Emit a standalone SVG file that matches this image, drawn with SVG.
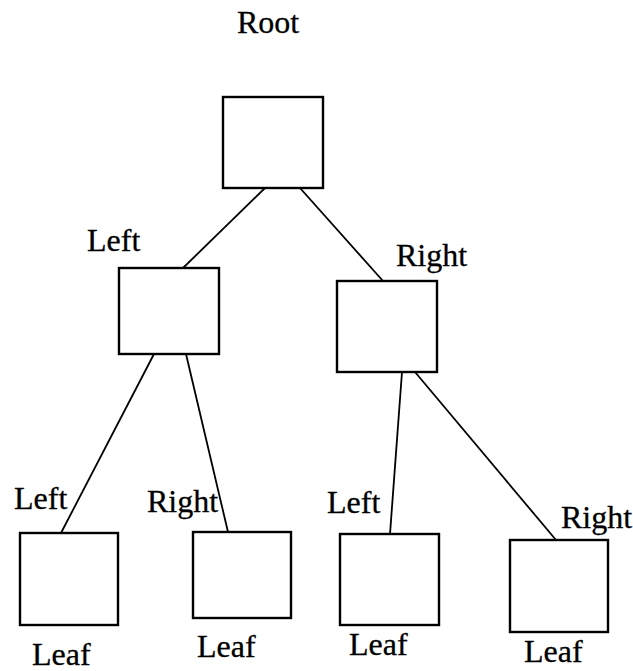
<svg xmlns="http://www.w3.org/2000/svg" width="633" height="671" viewBox="0 0 633 671">
<style>
.box{fill:#fff;stroke:#000;stroke-width:2.4}
.ln{stroke:#000;stroke-width:1.8;fill:none}
text{font-family:"Liberation Serif","Times New Roman",serif;font-size:32px;fill:#000;stroke:#000;stroke-width:0.3}
</style>
<rect width="633" height="671" fill="#fff"/>
<g id="connectors">
<line class="ln" x1="265" y1="188" x2="183" y2="268"/>
<line class="ln" x1="300" y1="188" x2="383" y2="281"/>
<line class="ln" x1="154" y1="354" x2="61" y2="533"/>
<line class="ln" x1="186" y1="354" x2="228" y2="532"/>
<line class="ln" x1="402" y1="372" x2="390" y2="534"/>
<line class="ln" x1="415" y1="372" x2="556" y2="540"/>
</g>
<g id="root"><rect class="box" x="223" y="97" width="100" height="91"/><text x="237" y="33">Root</text></g>
<g id="left"><rect class="box" x="119" y="268" width="100" height="86"/><text x="87" y="251">Left</text></g>
<g id="right"><rect class="box" x="337" y="281" width="100" height="91"/><text x="396" y="266">Right</text></g>
<g id="leaf1"><rect class="box" x="20" y="533" width="98" height="92"/><text x="14" y="509">Left</text><text x="32" y="665">Leaf</text></g>
<g id="leaf2"><rect class="box" x="193" y="532" width="98" height="86"/><text x="147" y="512">Right</text><text x="197" y="657">Leaf</text></g>
<g id="leaf3"><rect class="box" x="340" y="534" width="99" height="91"/><text x="327" y="513">Left</text><text x="349" y="655">Leaf</text></g>
<g id="leaf4"><rect class="box" x="510" y="540" width="98" height="92"/><text x="561" y="528">Right</text><text x="524" y="662">Leaf</text></g>
</svg>
